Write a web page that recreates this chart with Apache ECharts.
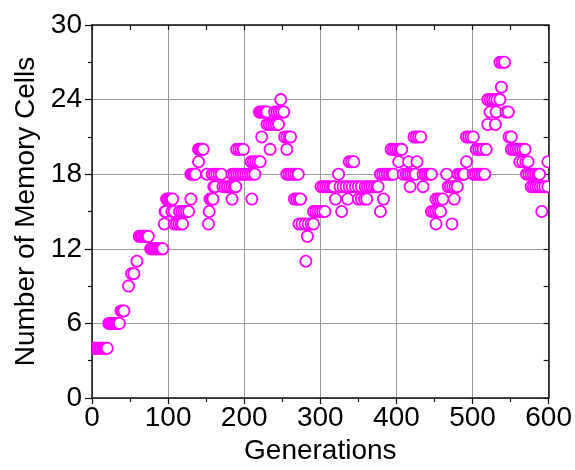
<!DOCTYPE html>
<html>
<head>
<meta charset="utf-8">
<script src="https://cdn.jsdelivr.net/npm/echarts@6/dist/echarts.min.js"></script>
<style>
  html, body { margin: 0; padding: 0; background: #fff; }
  #chart { width: 575px; height: 470px; }
</style>
</head>
<body>
<div id="chart"></div>
<script>
// Memory cell count per generation (one circle per sample)
const generations = [
  0, 2, 4, 6, 8, 10, 12, 14, 16, 18, 20,
  22, 24, 26, 28, 30, 32, 34, 36,
  38, 40, 42, 48, 52, 55, 59,
  62, 64, 66, 68, 70, 72, 74,
  77, 79, 81, 83, 85, 87, 89, 91, 93,
  95, 96, 97, 98, 100, 102, 104, 105, 106,
  108, 108, 111, 114, 115, 117, 118, 119, 121, 124, 127,
  130, 130, 132, 134, 136, 140, 140, 142, 144, 146,
  151, 153, 154, 155, 157, 158, 159, 160, 161, 162, 164, 167, 170,
  172, 175, 178, 181, 184, 184, 184, 187, 187, 189, 190, 190, 193, 193, 196, 196, 199, 199,
  202, 205, 208, 209, 210, 211, 212, 214, 215, 218, 220, 221, 222, 223, 224, 226, 228,
  230, 230, 233, 234, 236, 239, 240, 242, 243, 245, 246, 248, 249, 252,
  253, 256, 256, 256, 259, 259, 261, 262, 265, 266, 268, 269, 271, 272, 272, 274,
  276, 280, 281, 283, 284, 288, 291, 291, 294, 297, 300, 301, 303, 304, 306, 307,
  310, 313, 316, 318, 320, 324, 326, 328, 330, 334, 336, 338, 338, 341, 342, 344, 346,
  350, 350, 354, 354, 358, 359, 361, 362, 365, 368, 371, 374, 376, 379, 379, 382, 383,
  385, 388, 391, 393, 394, 396, 396, 399, 402, 403, 405, 407, 409, 413, 416, 416, 418,
  419, 422, 423, 425, 426, 427, 429, 432, 435, 435, 438, 441, 444, 446, 446, 449,
  452, 452, 452, 455, 455, 458, 458, 461, 466, 468, 471, 473, 474, 476, 477, 480,
  481, 484, 487, 489, 492, 492, 495, 498, 501, 501, 504, 505, 507, 508, 510, 511,
  513, 514, 516, 518, 520, 520, 523, 523, 526, 529, 530, 531, 532, 536, 536, 538,
  539, 542, 544, 547, 548, 551, 551, 554, 557, 560, 562, 563, 566, 566, 569, 570,
  571, 573, 574, 577, 577, 580, 580, 583, 583, 586, 586, 588, 589, 591, 592, 595, 599, 599
];
const memoryCells = [
  4, 4, 4, 4, 4, 4, 4, 4, 4, 4, 4,
  6, 6, 6, 6, 6, 6, 6, 6,
  7, 7, 7, 9, 10, 10, 11,
  13, 13, 13, 13, 13, 13, 13,
  12, 12, 12, 12, 12, 12, 12, 12, 12,
  14, 15, 15, 16, 16, 16, 16, 15, 16,
  14, 15, 14, 14, 15, 14, 15, 14, 15, 15, 15,
  16, 18, 18, 18, 18, 19, 20, 20, 20, 20,
  18, 14, 15, 16, 16, 18, 16, 17, 18, 17, 18, 18, 18,
  17, 17, 17, 17, 16, 17, 18, 17, 18, 17, 18, 20, 18, 20, 18, 20, 18, 20,
  18, 18, 18, 19, 16, 18, 19, 18, 19, 19, 23, 19, 23, 21, 23, 23, 23,
  22, 23, 22, 20, 22, 22, 23, 22, 23, 22, 23, 24, 23, 23,
  21, 20, 21, 18, 21, 18, 21, 18, 18, 16, 18, 16, 18, 16, 14, 16,
  14, 14, 11, 13, 14, 14, 14, 15, 15, 15, 15, 17, 15, 17, 15, 17,
  17, 17, 17, 17, 16, 18, 17, 15, 17, 17, 16, 17, 19, 19, 17, 19, 17,
  16, 17, 16, 17, 16, 17, 16, 17, 17, 17, 17, 17, 17, 15, 18, 18, 16,
  18, 18, 18, 20, 18, 18, 20, 20, 20, 19, 20, 20, 18, 18, 19, 18, 17,
  18, 18, 21, 18, 21, 19, 21, 21, 17, 18, 18, 18, 18, 18, 15, 15,
  15, 16, 14, 15, 16, 15, 16, 16, 18, 17, 17, 14, 17, 16, 17, 17,
  18, 18, 18, 18, 19, 21, 21, 21, 21, 18, 18, 20, 18, 20, 18, 20,
  18, 20, 18, 20, 22, 24, 24, 23, 24, 24, 22, 23, 24, 24, 27, 25,
  27, 27, 23, 23, 21, 21, 20, 20, 20, 20, 19, 20, 20, 19, 20, 19,
  18, 19, 18, 18, 17, 18, 17, 18, 17, 18, 17, 18, 17, 15, 17, 17, 17, 19
];
const xTicks = { min: 0, max: 600, step: 100 };
const yTicks = { min: 0, max: 30, step: 6 };

const points = generations.map((g, i) => [g, memoryCells[i]]);

const FONT = '"Liberation Sans", Arial, Helvetica, sans-serif';
const AXIS_COLOR = '#111';
const GRID_COLOR = '#9a9a9a';
const MARK_COLOR = '#ff00ff';

const chart = echarts.init(document.getElementById('chart'), null, { renderer: 'canvas' });

chart.setOption({
  animation: false,
  backgroundColor: '#ffffff',
  grid: { left: 92, right: 24, top: 25, bottom: 72 },
  xAxis: [
    {
      type: 'value', position: 'bottom',
      min: xTicks.min, max: xTicks.max, interval: xTicks.step,
      name: 'Generations', nameLocation: 'middle', nameGap: 36,
      nameTextStyle: { fontFamily: FONT, fontSize: 28, color: '#000' },
      axisLine: { show: true, onZero: false, lineStyle: { color: AXIS_COLOR, width: 1.5 } },
      axisTick: { show: true, inside: false, length: 6, lineStyle: { color: AXIS_COLOR, width: 1.2 } },
      minorTick: { show: true, splitNumber: 2, length: 4, lineStyle: { color: AXIS_COLOR, width: 1.2 } },
      splitLine: { show: true, lineStyle: { color: GRID_COLOR, width: 1 } },
      axisLabel: { fontFamily: FONT, fontSize: 28, color: '#000', margin: 6 }
    },
    {
      type: 'value', position: 'top',
      min: xTicks.min, max: xTicks.max, interval: xTicks.step / 2,
      axisLine: { show: true, onZero: false, lineStyle: { color: AXIS_COLOR, width: 1.5 } },
      axisTick: { show: true, inside: true, length: 5, lineStyle: { color: AXIS_COLOR, width: 1.2 } },
      splitLine: { show: false },
      axisLabel: { show: false }
    }
  ],
  yAxis: [
    {
      type: 'value', position: 'left',
      min: yTicks.min, max: yTicks.max, interval: yTicks.step,
      name: 'Number of Memory Cells', nameLocation: 'middle', nameGap: 50, nameRotate: 90,
      nameTextStyle: { fontFamily: FONT, fontSize: 28, color: '#000' },
      axisLine: { show: true, onZero: false, lineStyle: { color: AXIS_COLOR, width: 1.5 } },
      axisTick: { show: true, inside: false, length: 7, lineStyle: { color: AXIS_COLOR, width: 1.2 } },
      minorTick: { show: true, splitNumber: 2, length: 4, lineStyle: { color: AXIS_COLOR, width: 1.2 } },
      splitLine: { show: true, lineStyle: { color: GRID_COLOR, width: 1 } },
      axisLabel: { fontFamily: FONT, fontSize: 28, color: '#000', margin: 10 }
    },
    {
      type: 'value', position: 'right',
      min: yTicks.min, max: yTicks.max, interval: yTicks.step / 2,
      axisLine: { show: true, onZero: false, lineStyle: { color: AXIS_COLOR, width: 1.5 } },
      axisTick: { show: true, inside: true, length: 5, lineStyle: { color: AXIS_COLOR, width: 1.2 } },
      splitLine: { show: false },
      axisLabel: { show: false }
    }
  ],
  series: [
    {
      type: 'custom',
      xAxisIndex: 0, yAxisIndex: 0,
      clip: true,
      data: points,
      encode: { x: 0, y: 1 },
      renderItem: function (params, api) {
        const p = api.coord([api.value(0), api.value(1)]);
        return {
          type: 'circle',
          shape: { cx: p[0], cy: p[1], r: 5.6 },
          style: { fill: '#ffffff', stroke: MARK_COLOR, lineWidth: 1.8 }
        };
      }
    }
  ]
});
</script>
</body>
</html>
